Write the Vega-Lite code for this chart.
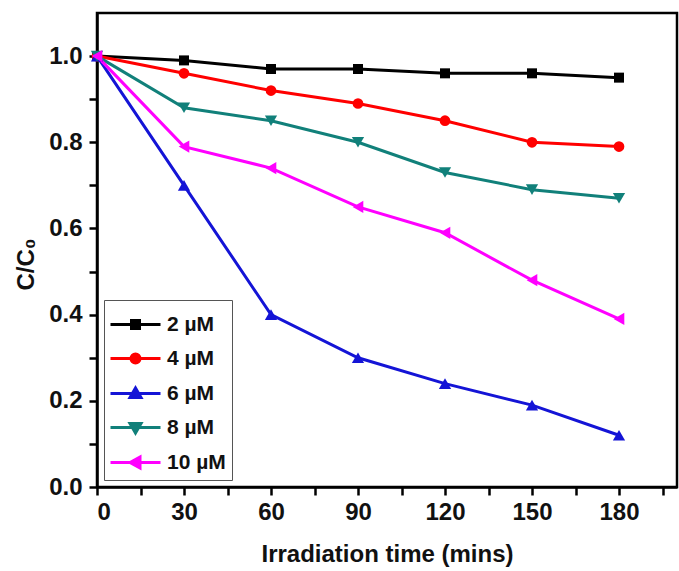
{
  "$schema": "https://vega.github.io/schema/vega-lite/v6.json",
  "width": 580,
  "height": 474,
  "autosize": "none",
  "padding": {"left": 97, "top": 13, "right": 2, "bottom": 84},
  "background": "white",
  "config": {
    "view": {"stroke": "black", "strokeWidth": 2.5},
    "axis": {
      "domainColor": "black", "domainWidth": 2.5, "tickColor": "black", "tickWidth": 2.5,
      "labelFont": "Liberation Sans", "labelFontWeight": "bold", "labelFontSize": 24, "labelColor": "#111111",
      "titleFont": "Liberation Sans", "titleFontWeight": "bold", "titleFontSize": 24, "titleColor": "#111111",
      "grid": false
    }
  },
  "data": {"values": [
    {"series": "2 µM", "time": 0, "value": 1.0},
    {"series": "2 µM", "time": 30, "value": 0.99},
    {"series": "2 µM", "time": 60, "value": 0.97},
    {"series": "2 µM", "time": 90, "value": 0.97},
    {"series": "2 µM", "time": 120, "value": 0.96},
    {"series": "2 µM", "time": 150, "value": 0.96},
    {"series": "2 µM", "time": 180, "value": 0.95},
    {"series": "4 µM", "time": 0, "value": 1.0},
    {"series": "4 µM", "time": 30, "value": 0.96},
    {"series": "4 µM", "time": 60, "value": 0.92},
    {"series": "4 µM", "time": 90, "value": 0.89},
    {"series": "4 µM", "time": 120, "value": 0.85},
    {"series": "4 µM", "time": 150, "value": 0.80},
    {"series": "4 µM", "time": 180, "value": 0.79},
    {"series": "6 µM", "time": 0, "value": 1.0},
    {"series": "6 µM", "time": 30, "value": 0.70},
    {"series": "6 µM", "time": 60, "value": 0.40},
    {"series": "6 µM", "time": 90, "value": 0.30},
    {"series": "6 µM", "time": 120, "value": 0.24},
    {"series": "6 µM", "time": 150, "value": 0.19},
    {"series": "6 µM", "time": 180, "value": 0.12},
    {"series": "8 µM", "time": 0, "value": 1.0},
    {"series": "8 µM", "time": 30, "value": 0.88},
    {"series": "8 µM", "time": 60, "value": 0.85},
    {"series": "8 µM", "time": 90, "value": 0.80},
    {"series": "8 µM", "time": 120, "value": 0.73},
    {"series": "8 µM", "time": 150, "value": 0.69},
    {"series": "8 µM", "time": 180, "value": 0.67},
    {"series": "10 µM", "time": 0, "value": 1.0},
    {"series": "10 µM", "time": 30, "value": 0.79},
    {"series": "10 µM", "time": 60, "value": 0.74},
    {"series": "10 µM", "time": 90, "value": 0.65},
    {"series": "10 µM", "time": 120, "value": 0.59},
    {"series": "10 µM", "time": 150, "value": 0.48},
    {"series": "10 µM", "time": 180, "value": 0.39}
  ]},
  "encoding": {
    "x": {
      "field": "time", "type": "quantitative",
      "scale": {"domain": [0, 200], "nice": false, "zero": false},
      "axis": {
        "title": "Irradiation time (mins)",
        "values": [0, 15, 30, 45, 60, 75, 90, 105, 120, 135, 150, 165, 180, 195],
        "labelExpr": "datum.value % 30 === 0 ? datum.label : ''",
        "tickSize": 8, "labelPadding": 5, "titlePadding": 18,
        "encode": {"ticks": {"update": {"y2": {"signal": "datum.value % 30 === 0 ? 8 : 5"}}}}
      }
    },
    "y": {
      "field": "value", "type": "quantitative",
      "scale": {"domain": [0, 1.1], "nice": false},
      "axis": {
        "title": "C/C₀",
        "titleY": 251,
        "values": [0, 0.1, 0.2, 0.3, 0.4, 0.5, 0.6, 0.7, 0.8, 0.9, 1.0],
        "format": ".1f",
        "labelExpr": "round(datum.value * 10) % 2 === 0 ? datum.label : ''",
        "tickSize": 8, "labelPadding": 7, "titlePadding": 10,
        "encode": {"ticks": {"update": {"x2": {"signal": "round(datum.value * 10) % 2 === 0 ? -8 : -5"}}}}
      }
    },
    "color": {
      "field": "series", "type": "nominal",
      "scale": {
        "domain": ["2 µM", "4 µM", "6 µM", "8 µM", "10 µM"],
        "range": ["#000000", "#ff0000", "#1414d6", "#11807a", "#ff00ff"]
      },
      "legend": {
        "title": " ",
        "titleFontSize": 5,
        "titlePadding": 2,
        "orient": "bottom-left",
        "offset": 7,
        "padding": 6,
        "fillColor": "white",
        "strokeColor": "#555555",
        "symbolSize": 400,
        "rowPadding": 12,
        "labelOffset": 34,
        "labelFont": "Liberation Sans",
        "labelFontWeight": "bold",
        "labelFontSize": 21,
        "labelColor": "#111111",
        "encode": {
          "symbols": {
            "update": {
              "shape": {"signal": "datum.value === '2 µM' ? 'M-1.1,0H3.9M1.0,-0.4H1.8V0.4H1.0Z' : datum.value === '4 µM' ? 'M-1.1,0H3.9M0.95,0A0.45,0.45 0 1,0 1.85,0A0.45,0.45 0 1,0 0.95,0Z' : datum.value === '6 µM' ? 'M-1.1,0H3.9M1.4,-0.55L1.95,0.4H0.85Z' : datum.value === '8 µM' ? 'M-1.1,0H3.9M1.4,0.55L1.95,-0.4H0.85Z' : 'M-1.1,0H3.9M0.85,0L1.85,-0.55V0.55Z'"},
              "stroke": {"signal": "scale('color', datum.value)"},
              "fill": {"signal": "scale('color', datum.value)"},
              "strokeWidth": {"value": 3},
              "size": {"value": 400},
              "opacity": {"value": 1}
            }
          }
        }
      }
    }
  },
  "layer": [
    {"mark": {"type": "line", "strokeWidth": 3}},
    {
      "transform": [{"filter": "datum.series === '2 µM'"}],
      "mark": {"type": "point", "filled": true, "opacity": 1, "shape": "square", "size": 100}
    },
    {
      "transform": [{"filter": "datum.series === '4 µM'"}],
      "mark": {"type": "point", "filled": true, "opacity": 1, "shape": "circle", "size": 115}
    },
    {
      "transform": [{"filter": "datum.series === '6 µM'"}],
      "mark": {"type": "point", "filled": true, "opacity": 1, "shape": "triangle-up", "size": 150}
    },
    {
      "transform": [{"filter": "datum.series === '8 µM'"}],
      "mark": {"type": "point", "filled": true, "opacity": 1, "shape": "triangle-down", "size": 150}
    },
    {
      "transform": [{"filter": "datum.series === '10 µM'"}],
      "mark": {"type": "point", "filled": true, "opacity": 1, "shape": "triangle-left", "size": 150}
    }
  ]
}
